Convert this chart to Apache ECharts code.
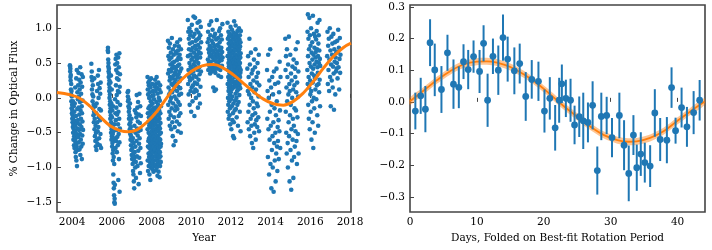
<!DOCTYPE html>
<html>
<head>
<meta charset="utf-8">
<script src="https://cdn.jsdelivr.net/npm/echarts@6/dist/echarts.min.js"></script>
<style>html,body{margin:0;padding:0;background:#fff}#c{width:712px;height:250px}</style>
</head>
<body>
<div id="c"></div>
<script>
// ---------- Left panel: photometry by observing season ----------
const seasonStart = [2003.89, 2004.97, 2005.80, 2006.80, 2007.80, 2008.83, 2009.83, 2010.83, 2011.83, 2012.83, 2013.82, 2014.74, 2015.85, 2016.85];
const seasonEnd   = [2004.55, 2005.46, 2006.42, 2007.47, 2008.48, 2009.50, 2010.50, 2011.58, 2012.50, 2013.43, 2014.50, 2015.41, 2016.50, 2017.52];
const s2004 = [0.47,0.45,0.38,0.42,0.30,0.25,0.33,0.12,0.05,0.20,-0.05,0.10,-0.15,0.02,-0.22,-0.10,-0.30,-0.18,-0.35,-0.25,-0.42,-0.05,-0.50,-0.28,-0.60,-0.38,-0.12,-0.45,-0.68,-0.55,-0.20,-0.72,-0.33,-0.08,-0.62,-0.48,0.15,-0.40,-0.78,-0.58,-0.85,-0.26,-0.66,0.28,-0.90,-0.52,-0.70,0.40,-0.98,-0.36,-0.16,0.08,-0.44,-0.75,-0.02,
  -0.32,0.18,-0.56,0.36,-0.14,-0.64,0.02,-0.46,0.26,-0.24,-0.74,0.12,-0.38,-0.06,-0.52,0.44,-0.82,-0.18,0.22,-0.60,-0.30,0.06,-0.70,-0.42,0.34,-0.12,-0.88,-0.22,0.16,-0.54,-0.34,-0.04,-0.66,0.30,-0.46];
const s2005 = [0.49,0.30,0.38,0.12,0.25,0.05,-0.05,0.18,-0.15,0.02,-0.25,-0.10,-0.35,-0.20,0.28,-0.45,-0.30,-0.55,-0.12,-0.62,-0.40,-0.70,-0.50,-0.22,-0.75,-0.08,-0.60,0.10,-0.35,-0.66,-0.48,0.32,
  0.20,-0.42,0.00,-0.28,0.40,-0.58,-0.16,0.14,-0.68,-0.32,0.06,-0.52,0.22,-0.18,-0.72];
const s2006 = [0.68,0.72,0.66,0.55,0.45,0.50,0.38,0.30,0.42,0.20,0.35,0.10,0.25,0.00,0.15,-0.10,0.05,-0.20,-0.05,-0.30,0.22,-0.15,-0.40,-0.25,0.32,-0.50,-0.35,-0.08,-0.60,-0.45,0.12,-0.55,-0.28,-0.70,-0.18,-0.65,-0.42,-0.80,-0.52,-0.90,-0.12,-0.75,-1.10,-0.48,-1.22,-0.85,-1.30,-0.62,-1.40,-0.95,-1.50,-0.38,-1.45,-1.52,-1.25,-0.02,-0.58,0.48,-0.22,-0.72,
  0.56,-0.32,0.18,-0.62,0.40,-0.14,0.62,-0.46,0.04,-0.78,0.28,-0.24,0.50,-0.56,-0.06,0.36,-0.68,0.10,-0.38,0.58,-1.18,-0.20,0.26,-0.52,0.44,-0.88,0.08,-0.30,0.64,-0.64,-1.35,0.16,-0.44,0.34,-0.10];
const s2007 = [0.08,0.02,-0.05,0.10,-0.12,-0.02,-0.20,-0.30,-0.15,-0.38,-0.25,-0.45,-0.08,-0.52,-0.35,-0.60,-0.42,-0.68,-0.55,-0.75,-0.30,-0.82,-0.62,-0.88,-0.48,-0.72,-0.95,-0.58,-1.05,-0.80,-1.10,-0.65,-1.20,-0.90,-1.30,-0.40,-0.78,-0.18,-0.85,-1.00,-0.70,-0.50,-0.92,-1.15,-0.22,
  -0.28,-0.62,0.04,-0.84,-0.44,-0.14,-0.98,-0.54,-0.34,-0.06,-0.76,-0.48,-1.24,-0.24,-0.66,-0.86,0.06,-0.58,-0.36,-1.08,-0.12,-0.72,-0.46,-0.94,-0.26];
const s2008 = [0.30,-0.45,-0.90,0.12,-0.22,-0.70,-1.05,0.05,-0.35,-0.62,0.22,-0.15,-0.80,-0.50,-0.98,0.18,-0.28,-0.58,-0.85,0.00,-0.40,-0.72,-1.10,0.25,-0.12,-0.52,-0.92,-0.30,0.08,-0.65,-0.42,-0.78,-1.18,-0.20,0.15,-0.55,-0.88,-0.05,-0.68,-0.35,-1.00,0.28,-0.25,-0.60,-0.82,-0.10,-0.48,-0.95,0.02,-0.75,-0.38,-0.18,-0.66,-1.02,0.20,-0.32,-0.86,-0.58,-0.08,-0.45,-0.72,-0.94,0.10,-0.26,-0.52,-0.78,-0.15,-0.62,-1.06,-0.40,0.04,-0.70,-0.30,-0.90,-0.55,-0.02,-0.84,-0.46,-0.22,-0.64,-0.98,-0.36,0.16,-0.76,-0.60,
  -0.28,-0.74,0.26,-0.50,-0.96,-0.14,-0.60,0.10,-0.84,-0.38,-1.04,-0.20,0.20,-0.66,-0.44,-0.90,-0.06,-0.56,-0.80,0.30,-0.32,-1.00,-0.70,-0.16,-0.48,0.14,-0.88,-0.62,-0.24,-1.12,-0.42,0.06,-0.76,-0.54,-0.92,-0.10,-0.34,-0.68,0.22,-0.82,-0.46,-1.06,-0.26,-0.58,0.00,-0.72,-0.96,-0.40,-0.18,-0.86,0.12,-0.64,-0.30,-1.14,-0.52,-0.04,-0.78,-0.44,-0.98,0.18,-0.60,-0.22,-0.84,-0.36,-0.70,0.08,-0.92,-0.50,-0.12,-0.66];
const s2009 = [0.82,0.35,-0.10,0.60,0.15,-0.30,0.72,0.40,0.05,-0.20,0.55,0.25,-0.40,0.78,0.30,-0.05,0.48,0.10,-0.25,0.65,0.38,0.00,-0.45,0.58,0.20,-0.15,0.86,0.42,0.08,-0.35,0.50,0.28,-0.55,0.70,0.18,-0.08,0.45,0.32,-0.68,0.62,0.12,-0.28,0.52,0.22,0.02,-0.42,0.75,0.36,-0.18,0.44,-0.62,0.26,0.66,-0.12,0.34,
  0.40,-0.02,0.64,0.20,-0.34,0.54,0.10,0.80,-0.16,0.30,0.46,-0.48,0.68,0.16,-0.06,0.58,0.34,-0.26,0.74,0.04,0.48,-0.38,0.24,0.62,-0.10,0.38,0.84,0.14,-0.22,0.56,0.28,-0.50,0.70,0.06,0.42];
const s2010 = [1.12,0.60,0.20,0.95,0.40,0.05,0.85,0.70,0.30,1.00,0.50,-0.10,0.78,0.25,0.90,0.62,0.10,0.45,0.95,0.35,-0.20,0.68,0.55,0.15,1.05,0.42,0.80,0.28,-0.05,0.72,0.58,0.18,0.88,0.38,1.17,0.48,0.08,0.65,0.32,-0.26,0.92,0.52,0.22,1.15,0.75,0.12,0.45,0.82,0.00,0.60,
  0.70,0.30,0.98,0.10,0.56,0.84,0.20,0.62,1.08,0.40,-0.14,0.76,0.50,0.94,0.26,0.66,0.04,0.86,0.44,1.10,0.34,0.72,-0.08,0.58,0.90,0.16,0.64,1.02,0.38,0.80];
const s2011 = [0.80,0.55,0.95,0.40,0.70,0.85,0.50,0.65,1.05,0.45,0.75,0.60,0.35,0.90,0.52,0.72,0.42,1.10,0.62,0.48,0.82,0.38,0.68,0.58,0.98,0.44,0.78,0.15,0.66,0.54,0.88,0.40,0.74,0.10,0.60,0.46,0.92,0.36,0.70,0.56,0.12,0.84,0.50,0.64,1.12,0.42,0.76,0.62,
  0.66,0.48,0.86,0.58,0.32,0.74,0.52,0.96,0.44,0.68,0.80,0.56,1.00,0.40,0.70,0.62,0.90,0.30,0.72,0.54,0.84,0.46,0.66,1.06,0.58];
const s2012 = [1.08,0.60,0.20,-0.20,0.85,0.40,0.00,0.70,0.30,-0.10,0.95,0.50,0.10,-0.30,0.78,0.45,0.15,0.88,0.55,0.25,-0.05,0.65,0.35,-0.25,0.92,0.05,0.72,0.42,-0.15,0.82,0.52,0.18,-0.38,0.62,0.28,1.02,0.48,0.08,0.75,0.32,-0.02,0.90,0.58,0.22,-0.45,0.68,0.38,0.12,0.80,0.46,-0.12,0.98,0.56,0.26,0.02,0.74,0.34,-0.32,0.86,0.44,0.14,0.64,-0.22,0.54,0.24,-0.55,0.76,0.36,-0.08,0.94,0.50,0.16,0.66,-0.35,0.84,0.40,-0.58,1.10,0.60,0.20,0.70,0.30,-0.18,0.88,0.46,
  0.70,0.36,-0.04,0.90,0.56,0.20,0.80,0.44,0.06,1.04,0.62,0.30,-0.16,0.76,0.50,0.16,0.92,0.40,0.00,0.68,0.34,-0.28,0.86,0.54,0.24,0.74,0.10,0.60,0.38,-0.10,0.96,0.48,0.22,0.82,0.58,0.28,-0.40,0.72,0.42,0.12,0.88,0.52,0.26,0.66,-0.06,0.78,0.46,0.18,1.00,0.56,0.32,0.70,0.04,0.84,0.44,0.20,0.62,-0.20,0.90,0.50,0.30,0.74,0.14,0.58,0.36,0.80,-0.48,0.64,0.40,0.96];
const s2013 = [0.42,-0.35,0.10,0.60,-0.20,0.30,-0.45,0.05,0.85,-0.10,0.48,-0.55,0.20,-0.30,0.65,0.00,-0.40,0.35,-0.65,0.15,-0.25,0.40,-0.05,-0.72,0.25,-0.15,0.55,-0.50,0.08,-0.38,0.44,-0.22,0.70,-0.60,0.12,-0.32,0.30,-0.08,
  0.22,-0.42,0.50,-0.12,0.36,-0.28,0.02,0.62,-0.48,0.18];
const s2014 = [0.40,-0.30,0.10,-0.85,0.62,-0.45,0.00,-1.10,0.25,-0.60,-0.20,0.70,-0.95,-0.40,0.15,-1.30,-0.10,-0.75,0.30,-0.55,-1.00,0.05,-0.35,-1.35,0.38,-0.65,-0.15,-0.90,0.20,-0.50,-1.20,-0.25,-0.80,0.42,-0.05,-0.70,-1.05,-0.42,
  -0.62,0.22,-0.32,-0.88,0.08,-0.48,0.52,-0.18,-0.72,0.30];
const s2015 = [0.85,0.40,-0.20,0.60,-0.50,0.15,-0.80,0.70,-0.05,0.30,-0.65,-1.00,0.48,0.05,-0.35,0.88,-0.55,0.20,-1.20,0.10,-0.25,0.62,-0.75,-0.10,0.35,-1.32,-0.45,0.25,-0.90,0.00,0.45,-0.60,-0.30,0.12,-1.15,0.55,-0.40,-0.85,0.18,-0.15,-0.70,0.42,
  0.30,-0.48,0.70,-0.18,0.08,-0.62,0.50,-0.95,0.22,-0.28,0.80,-0.52,0.02,0.38,-0.80];
const s2016 = [0.40,0.95,0.20,1.20,0.60,-0.10,0.85,0.30,-0.30,0.70,0.15,1.15,0.50,-0.45,0.90,0.25,0.05,0.75,-0.20,0.45,1.00,0.10,-0.60,0.65,0.35,-0.05,0.80,0.55,-0.35,0.22,1.18,0.42,-0.72,0.62,0.00,0.92,0.32,-0.15,0.72,0.48,-0.50,0.28,0.88,0.12,0.58,
  0.66,0.30,0.84,-0.02,0.52,0.96,0.18,0.70,-0.25,0.44,1.08,0.36,0.60,-0.40,0.78,0.20,0.90,0.50,0.08,0.68,1.12,0.26,0.56,-0.12,0.46];
const s2017 = [0.60,0.95,0.20,0.75,0.40,0.85,0.10,0.55,1.00,0.30,0.68,-0.12,0.48,0.88,0.25,0.62,0.78,0.15,0.45,0.92,0.35,-0.17,0.70,0.52,0.80,0.05,0.58,0.38,0.65,0.42,
  0.50,0.82,0.28,0.66,0.98,0.44,0.72,0.12,0.56,0.86,0.36,0.62];
const seasonValues = [s2004,s2005,s2006,s2007,s2008,s2009,s2010,s2011,s2012,s2013,s2014,s2015,s2016,s2017];

// long-term fit curve
const fitYears  = [2003.24,2003.9,2004.4,2004.9,2005.41,2005.91,2006.42,2006.84,2007.26,2007.76,2008.27,2008.77,2009.27,2009.78,2010.28,2010.79,2011.12,2011.62,2012.13,2012.63,2013.13,2013.64,2014.14,2014.64,2015.14,2015.65,2016.15,2016.66,2017.16,2017.67,2018.05];
const fitValues = [0.078,0.045,-0.008,-0.12,-0.27,-0.40,-0.47,-0.487,-0.46,-0.35,-0.195,0.0,0.188,0.33,0.428,0.476,0.48,0.428,0.33,0.21,0.09,-0.018,-0.085,-0.104,-0.05,0.07,0.236,0.428,0.595,0.725,0.787];
const yearTicks = [2004,2006,2008,2010,2012,2014,2016,2018];
const fluxTicks = [-1.5,-1.0,-0.5,0.0,0.5,1.0];

// ---------- Right panel: folded light curve ----------
const phaseDays = [0.8,1.6,2.3,3.0,3.7,4.7,5.6,6.5,7.3,8.0,8.7,9.5,10.4,11.0,11.6,12.4,13.2,13.9,14.6,15.6,16.4,17.3,18.2,19.2,20.1,20.9,21.7,22.3,22.7,23.3,24.0,24.6,25.3,25.9,26.6,27.3,28.0,28.6,29.4,30.2,31.3,32.0,32.7,33.4,33.9,34.5,35.1,35.9,36.6,37.4,38.4,39.1,39.7,40.6,41.4,42.4,43.3];
const phaseFlux = [-0.029,0.019,-0.023,0.187,0.101,0.039,0.155,0.056,0.046,0.127,0.102,0.143,0.096,0.185,0.005,0.144,0.100,0.203,0.135,0.098,0.121,0.017,0.071,0.065,-0.029,0.011,-0.082,0.005,0.057,0.011,0.005,-0.073,-0.047,-0.060,-0.065,-0.011,-0.217,-0.046,-0.043,-0.113,-0.043,-0.137,-0.226,-0.105,-0.208,-0.165,-0.192,-0.203,-0.035,-0.119,-0.121,0.045,-0.091,-0.018,-0.079,-0.034,0.005];
const phaseErr = [0.058,0.057,0.073,0.074,0.083,0.074,0.057,0.078,0.066,0.055,0.062,0.051,0.068,0.057,0.084,0.056,0.078,0.073,0.071,0.074,0.063,0.077,0.061,0.062,0.068,0.067,0.072,0.071,0.061,0.059,0.068,0.061,0.064,0.089,0.063,0.076,0.076,0.075,0.059,0.062,0.072,0.079,0.088,0.063,0.073,0.069,0.063,0.066,0.075,0.068,0.073,0.064,0.041,0.063,0.063,0.068,0.064];
const modelDays = [0,2,4,6,8,10,11.5,13,15,17,19,21,23,25,27,29,31,32.6,33.9,35.9,37.9,39.8,41.8,44];
const modelFlux = [0.002,0.035,0.068,0.097,0.118,0.127,0.128,0.124,0.110,0.087,0.058,0.023,-0.014,-0.047,-0.079,-0.105,-0.121,-0.126,-0.125,-0.114,-0.093,-0.063,-0.032,0.0];
const modelBand = 0.011;
const dayTicks = [0,10,20,30,40];
const phaseFluxTicks = [-0.3,-0.2,-0.1,0.0,0.1,0.2,0.3];

// ---------- build ----------
const BLUE = '#1f77b4', ORANGE = '#ff7f0e', FRAME = '#444';
const FONT = 'DejaVu Serif';
const fmtNum = d => v => (v < 0 ? '\u2212' : '') + Math.abs(v).toFixed(d);

const scatterPts = [];
seasonValues.forEach((vals, i) => {
  const n = vals.length;
  vals.forEach((v, j) => {
    const t = seasonStart[i] + (seasonEnd[i] - seasonStart[i]) * (n > 1 ? j / (n - 1) : 0.5);
    scatterPts.push([t, v]);
  });
});

const fitPts = fitYears.map((t, i) => [t, fitValues[i]]);
const foldPts = phaseDays.map((d, i) => [d, phaseFlux[i], phaseErr[i]]);
const modelPts = modelDays.map((d, i) => [d, modelFlux[i]]);

function axisCommon(ticks, fmt) {
  return {
    axisLine: { show: false },
    axisTick: { show: true, inside: true, length: 4, customValues: ticks, lineStyle: { color: FRAME, width: 1 } },
    axisLabel: { customValues: ticks, formatter: fmt, color: '#000', fontFamily: FONT, fontSize: 10.5, margin: 5 },
    splitLine: { show: false }
  };
}

const chart = echarts.init(document.getElementById('c'), null, { renderer: 'canvas' });
chart.setOption({
  animation: false,
  backgroundColor: '#fff',
  grid: [
    { left: 57, right: 361, top: 5, bottom: 38, show: true, borderColor: FRAME, borderWidth: 1.6, backgroundColor: 'transparent' },
    { left: 410, right: 7, top: 5, bottom: 38, show: true, borderColor: FRAME, borderWidth: 1.6, backgroundColor: 'transparent' }
  ],
  xAxis: [
    Object.assign({ type: 'value', gridIndex: 0, min: 2003.24, max: 2018.05,
      name: 'Year', nameLocation: 'middle', nameGap: 19,
      nameTextStyle: { fontFamily: FONT, fontSize: 10.5, color: '#000' } },
      axisCommon(yearTicks, v => String(Math.round(v)))),
    Object.assign({ type: 'value', gridIndex: 1, min: 0, max: 44.1,
      name: 'Days, Folded on Best-fit Rotation Period', nameLocation: 'middle', nameGap: 19,
      nameTextStyle: { fontFamily: FONT, fontSize: 10.5, color: '#000' } },
      axisCommon(dayTicks, v => String(Math.round(v))))
  ],
  yAxis: [
    Object.assign({ type: 'value', gridIndex: 0, min: -1.64, max: 1.335,
      name: '% Change in Optical Flux', nameLocation: 'middle', nameGap: 37, nameRotate: 90,
      nameTextStyle: { fontFamily: FONT, fontSize: 10.5, color: '#000' } },
      axisCommon(fluxTicks, fmtNum(1))),
    Object.assign({ type: 'value', gridIndex: 1, min: -0.348, max: 0.306 },
      axisCommon(phaseFluxTicks, fmtNum(1)))
  ],
  series: [
    { type: 'scatter', xAxisIndex: 0, yAxisIndex: 0, data: scatterPts, symbolSize: 4.6, large: false,
      itemStyle: { color: BLUE, opacity: 1 }, z: 2, silent: true },
    { type: 'line', xAxisIndex: 0, yAxisIndex: 0, data: fitPts, smooth: 0.4, showSymbol: false,
      lineStyle: { color: ORANGE, width: 3 }, z: 3, silent: true },
    { type: 'custom', xAxisIndex: 1, yAxisIndex: 1, data: modelPts, z: 1, silent: true,
      renderItem: (params, api) => {
        if (params.dataIndex !== 0) return null;
        const up = modelPts.map(p => api.coord([p[0], p[1] + modelBand]));
        const lo = modelPts.map(p => api.coord([p[0], p[1] - modelBand])).reverse();
        return { type: 'polygon', shape: { points: up.concat(lo), smooth: 0.3 },
          style: { fill: 'rgba(255,127,14,0.45)' } };
      } },
    { type: 'line', xAxisIndex: 1, yAxisIndex: 1, data: modelPts, smooth: 0.4, showSymbol: false,
      lineStyle: { color: ORANGE, width: 1.8 }, z: 2, silent: true },
    { type: 'custom', xAxisIndex: 1, yAxisIndex: 1, data: foldPts, z: 3, silent: true,
      renderItem: (params, api) => {
        const x = api.value(0), y = api.value(1), e = api.value(2);
        const a = api.coord([x, y - e]), b = api.coord([x, y + e]);
        return { type: 'line', shape: { x1: a[0], y1: a[1], x2: b[0], y2: b[1] },
          style: { stroke: BLUE, lineWidth: 2 } };
      } },
    { type: 'scatter', xAxisIndex: 1, yAxisIndex: 1, data: foldPts.map(p => [p[0], p[1]]), symbolSize: 6.8,
      itemStyle: { color: BLUE, opacity: 1 }, z: 4, silent: true }
  ]
});
</script>
</body>
</html>
